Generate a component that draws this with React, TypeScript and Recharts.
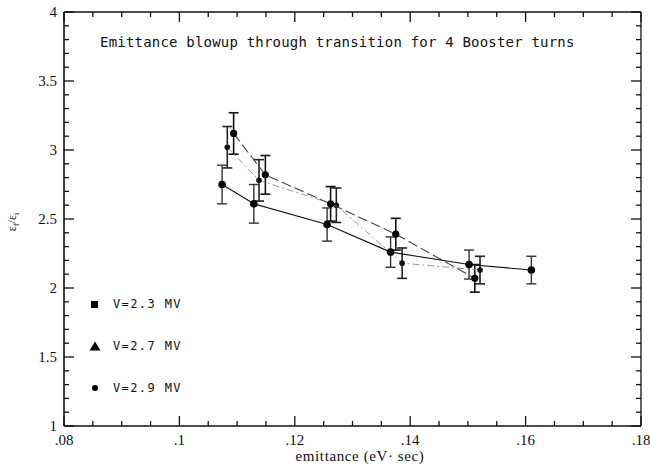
import { ScatterChart, Scatter, XAxis, YAxis, ErrorBar, ReferenceLine } from 'recharts'

// three bunch-voltage runs
const EMIT_A = [0.1074, 0.1129, 0.1256, 0.1366, 0.1502, 0.161]
const RATIO_A = [2.75, 2.61, 2.46, 2.26, 2.17, 2.13]
const ERR_A = [0.14, 0.14, 0.12, 0.11, 0.105, 0.1]

const EMIT_B = [0.1094, 0.1149, 0.1262, 0.1375, 0.1512]
const RATIO_B = [3.12, 2.82, 2.61, 2.39, 2.07]
const ERR_B = [0.15, 0.14, 0.125, 0.115, 0.1]

const EMIT_C = [0.1083, 0.1138, 0.1272, 0.1386, 0.1521]
const RATIO_C = [3.02, 2.78, 2.6, 2.18, 2.13]
const ERR_C = [0.15, 0.15, 0.125, 0.11, 0.1]

const LEGEND_LABELS = ['V=2.3 MV', 'V=2.7 MV', 'V=2.9 MV']
const TITLE = 'Emittance blowup through transition for 4 Booster turns'

const X_DOMAIN = [0.08, 0.18]
const Y_DOMAIN = [1, 4]
const X_LABEL_TICKS = [0.08, 0.1, 0.12, 0.14, 0.16, 0.18]
const Y_LABEL_TICKS = [1, 1.5, 2, 2.5, 3, 3.5, 4]
// major + minor tick marks
const X_TICKS = Array.from({ length: 21 }, (_, i) => +(0.08 + i * 0.005).toFixed(3))
const Y_TICKS = Array.from({ length: 31 }, (_, i) => +(1 + i * 0.1).toFixed(1))

const toPoints = (xs: number[], ys: number[], es: number[]) =>
  xs.map((x, i) => ({ x, y: ys[i], e: es[i] }))

const SERIES_A = toPoints(EMIT_A, RATIO_A, ERR_A)
const SERIES_B = toPoints(EMIT_B, RATIO_B, ERR_B)
const SERIES_C = toPoints(EMIT_C, RATIO_C, ERR_C)

const W = 650
const H = 466
const MARGIN = { top: 11, right: 8, left: 0, bottom: 0 }
const LEFT_W = 64
const BOTTOM_H = 40
const PLOT_W = W - MARGIN.left - MARGIN.right - LEFT_W - 1
const PLOT_H = H - MARGIN.top - MARGIN.bottom - BOTTOM_H - 1
// one pixel, in data units
const PX_X = (X_DOMAIN[1] - X_DOMAIN[0]) / PLOT_W
const PX_Y = (Y_DOMAIN[1] - Y_DOMAIN[0]) / PLOT_H

const TICK_FONT = '"Liberation Serif", serif'
const MONO = '"DejaVu Sans Mono", monospace'
const INK = '#111'

const near = (v: number, step: number) => Math.abs(v / step - Math.round(v / step)) < 1e-6
const xLen = (v: number) => (near(v, 0.02) ? 10 : 5)
const yLen = (v: number) => (near(v, 0.5) ? 10 : 5)

const fmtX = (v: number) => v.toFixed(2).replace(/0+$/, '').replace(/^0/, '')
const fmtY = (v: number) => String(+v.toFixed(1))

const xLabel = (p: any) => (
  <text x={p.x} y={p.y + 19} textAnchor="middle" fontSize={15} fontFamily={TICK_FONT} fill={INK}>
    {fmtX(p.payload.value)}
  </text>
)
const yLabel = (p: any) => (
  <text x={p.x - 7} y={p.y + 5} textAnchor="end" fontSize={15} fontFamily={TICK_FONT} fill={INK}>
    {fmtY(p.payload.value)}
  </text>
)

// top / right frame marks
const topMark = (p: any) => (
  <line x1={p.x} x2={p.x} y1={p.y} y2={p.y + xLen(p.payload.value)} stroke={INK} strokeWidth={1.3} />
)
const rightMark = (p: any) => (
  <line x1={p.x} x2={p.x - yLen(p.payload.value)} y1={p.y} y2={p.y} stroke={INK} strokeWidth={1.3} />
)

const dot = (r: number, fill: string) => (p: any) => <circle cx={p.cx} cy={p.cy} r={r} fill={fill} />
const none = () => <g />

const bare = {
  type: 'number' as const,
  interval: 0 as const,
  tickSize: 0,
  tickMargin: 0,
  tickLine: false,
}

export default function App() {
  return (
    <div style={{ position: 'fixed', left: 0, top: 0, width: W, height: H, background: '#fff' }}>
      <ScatterChart width={W} height={H} margin={MARGIN}>
        <XAxis {...bare} xAxisId="b" dataKey="x" domain={X_DOMAIN} ticks={X_LABEL_TICKS} height={BOTTOM_H} tick={xLabel} axisLine={{ stroke: INK, strokeWidth: 1.3 }} />
        <YAxis {...bare} yAxisId="l" dataKey="y" domain={Y_DOMAIN} ticks={Y_LABEL_TICKS} width={LEFT_W} tick={yLabel} axisLine={{ stroke: INK, strokeWidth: 1.6 }} />
        <XAxis {...bare} xAxisId="t" orientation="top" dataKey="x" domain={X_DOMAIN} ticks={X_TICKS} height={1} tick={topMark} axisLine={{ stroke: INK, strokeWidth: 1.3 }} />
        <YAxis {...bare} yAxisId="r" orientation="right" dataKey="y" domain={Y_DOMAIN} ticks={Y_TICKS} width={1} tick={rightMark} axisLine={{ stroke: INK, strokeWidth: 1.3 }} />

        {/* inward marks on the bottom and left edges */}
        {X_TICKS.map((v) => (
          <ReferenceLine
            key={`bx${v}`}
            xAxisId="b"
            yAxisId="l"
            segment={[{ x: v, y: Y_DOMAIN[0] }, { x: v, y: Y_DOMAIN[0] + xLen(v) * PX_Y }]}
            stroke={INK}
            strokeWidth={1.3}
            ifOverflow="visible"
          />
        ))}
        {Y_TICKS.map((v) => (
          <ReferenceLine
            key={`ly${v}`}
            xAxisId="b"
            yAxisId="l"
            segment={[{ x: X_DOMAIN[0], y: v }, { x: X_DOMAIN[0] + yLen(v) * PX_X, y: v }]}
            stroke={INK}
            strokeWidth={1.3}
            ifOverflow="visible"
          />
        ))}

        {/* the top/right frame axes need a series to show; this one draws nothing */}
        <Scatter xAxisId="t" yAxisId="r" data={SERIES_A} isAnimationActive={false} shape={none} />
        <Scatter
          xAxisId="b"
          yAxisId="l"
          data={SERIES_C}
          isAnimationActive={false}
          line={{ stroke: '#999', strokeWidth: 1, strokeDasharray: '7 3 2 3' }}
          lineType="joint"
          shape={dot(2.8, INK)}
        >
          <ErrorBar dataKey="e" direction="y" width={5} stroke="#222" strokeWidth={1.6} />
        </Scatter>
        <Scatter
          xAxisId="b"
          yAxisId="l"
          data={SERIES_B}
          isAnimationActive={false}
          line={{ stroke: '#444', strokeWidth: 1.1, strokeDasharray: '10 4' }}
          lineType="joint"
          shape={dot(3.6, '#000')}
        >
          <ErrorBar dataKey="e" direction="y" width={5} stroke={INK} strokeWidth={1.6} />
        </Scatter>
        <Scatter
          xAxisId="b"
          yAxisId="l"
          data={SERIES_A}
          isAnimationActive={false}
          line={{ stroke: INK, strokeWidth: 1.1 }}
          lineType="joint"
          shape={dot(3.8, '#000')}
        >
          <ErrorBar dataKey="e" direction="y" width={5} stroke="#333" strokeWidth={1.4} />
        </Scatter>
      </ScatterChart>

      <div
        style={{
          position: 'absolute',
          left: 100,
          top: 34,
          fontFamily: MONO,
          fontSize: 14,
          letterSpacing: 0.2,
          color: INK,
          whiteSpace: 'nowrap',
          lineHeight: '16px',
        }}
      >
        {TITLE}
      </div>

      {LEGEND_LABELS.map((label, i) => (
        <div
          key={label}
          style={{
            position: 'absolute',
            left: 88,
            top: 296 + i * 42,
            height: 16,
            display: 'flex',
            alignItems: 'center',
            fontFamily: MONO,
            fontSize: 12,
            letterSpacing: 1.4,
            color: INK,
            whiteSpace: 'nowrap',
          }}
        >
          <svg width={14} height={12} style={{ marginRight: 11 }}>
            {i === 0 && <rect x={3} y={3} width={7} height={7} fill="#000" />}
            {i === 1 && <polygon points="7,1.5 12.5,10.5 1.5,10.5" fill="#000" />}
            {i === 2 && <circle cx={7} cy={6} r={3} fill="#000" />}
          </svg>
          {label}
        </div>
      ))}

      <div
        style={{
          position: 'absolute',
          left: 360,
          top: 448,
          transform: 'translateX(-50%)',
          fontFamily: TICK_FONT,
          fontSize: 15,
          letterSpacing: 0.6,
          color: INK,
          whiteSpace: 'nowrap',
          lineHeight: '16px',
        }}
      >
        emittance (eV· sec)
      </div>

      <div
        style={{
          position: 'absolute',
          left: 13,
          top: 222,
          transform: 'translate(-50%, -50%) rotate(-90deg)',
          fontFamily: TICK_FONT,
          fontSize: 12,
          color: INK,
          whiteSpace: 'nowrap',
        }}
      >
        ε<sub style={{ fontSize: 8 }}>f</sub>/ε<sub style={{ fontSize: 8 }}>i</sub>
      </div>
    </div>
  )
}
